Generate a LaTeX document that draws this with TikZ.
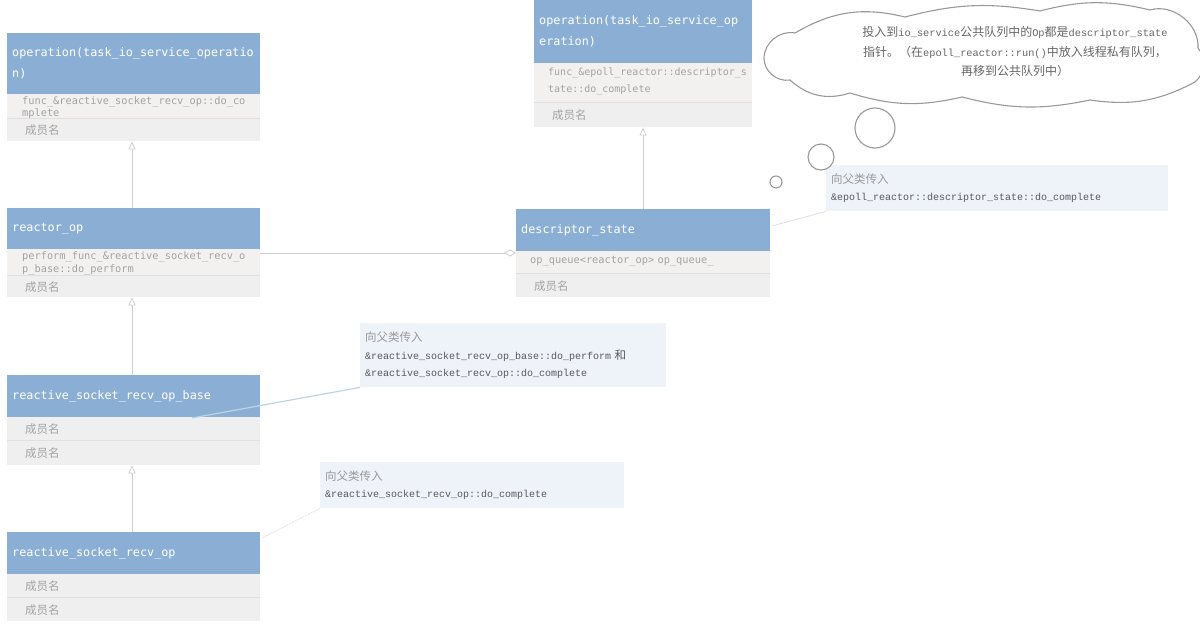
\documentclass[tikz,border=0pt]{standalone}
\usepackage{fontspec}
\setmainfont{Liberation Serif}
\newfontfamily\monof{DejaVu Sans Mono}
\newfontfamily\latm{Liberation Mono}
\newfontfamily\cjk{Noto Sans CJK SC}
\usetikzlibrary{arrows.meta,shapes.symbols}
\definecolor{hdrblue}{HTML}{8BAFD4}
\definecolor{rowa}{HTML}{F3F1F0}
\definecolor{rowb}{HTML}{EFEFEF}
\definecolor{rowtxt}{HTML}{A3A3A3}
\definecolor{notefill}{HTML}{EEF2F9}
\definecolor{linkgray}{HTML}{CFCFCF}
\newcommand{\zh}[1]{{\cjk\fontsize{11.5}{17.5}\selectfont #1}}
\newcommand{\zhc}[1]{{\cjk\fontsize{12}{19.5}\selectfont #1}}
\begin{document}
\begin{tikzpicture}[x=1pt,y=-1pt,
  hdr/.style={fill=hdrblue, anchor=north west, inner xsep=5pt, inner ysep=0pt,
    text=white, font=\monof\fontsize{11.8}{21}\selectfont, align=left},
  attrrow/.style={fill=rowa, anchor=north west, inner xsep=0pt, inner ysep=0pt,
    text=rowtxt, font=\monof\fontsize{10.5}{13}\selectfont, align=left},
  memrow/.style={fill=rowb, anchor=north west, inner xsep=0pt, inner ysep=0pt,
    text=rowtxt, font=\cjk\fontsize{11.5}{13}\selectfont, align=left},
  notebox/.style={fill=notefill, anchor=north west, inner xsep=5pt, inner ysep=4pt,
    font=\latm\fontsize{10}{17.5}\selectfont, align=left, text=black!65},
  inh/.style={draw=linkgray, line width=0.8pt, -{Triangle[open, width=7pt, length=8pt]}},
  agg/.style={draw=linkgray, line width=0.8pt, -{Diamond[open, width=7pt, length=12pt]}},
  bubble/.style={draw=black!40, line width=1.1pt, fill=white}
]
\useasboundingbox (0,0) rectangle (1200,627);
\fill[white] (0,0) rectangle (1200,627);

% ---------- left column ----------
\node[hdr, minimum width=253pt, minimum height=61pt, text width=243pt] (op1) at (7,33)
  {operation(task\_io\_service\_operatio\\n)};
\node[attrrow, minimum width=253pt, minimum height=25pt, text width=253pt] (op1a) at (7,94) {};
\node[attrrow, fill=none, text width=235pt, font=\monof\fontsize{10.3}{12}\selectfont] (op1at) at (22,96)
  {func\_\&reactive\_socket\_recv\_op::do\_co\\mplete};
\node[memrow, minimum width=253pt, minimum height=22pt, text width=253pt] (op1m) at (7,119)
  {\hspace{18pt}成员名};
\draw[black!12] (7,118.5) -- (260,118.5);

\node[hdr, minimum width=253pt, minimum height=41pt, text width=243pt] (rop) at (7,208)
  {reactor\_op};
\node[attrrow, minimum width=253pt, minimum height=27pt, text width=253pt] (ropa) at (7,249) {};
\node[attrrow, fill=none, text width=235pt, font=\monof\fontsize{10.3}{13}\selectfont] (ropat) at (22,251)
  {perform\_func\_\&reactive\_socket\_recv\_o\\p\_base::do\_perform};
\node[memrow, minimum width=253pt, minimum height=21pt, text width=253pt] (ropm) at (7,276)
  {\hspace{18pt}成员名};
\draw[black!12] (7,275.5) -- (260,275.5);

\node[hdr, minimum width=253pt, minimum height=42pt, text width=243pt] (base) at (7,375)
  {reactive\_socket\_recv\_op\_base};
\node[memrow, minimum width=253pt, minimum height=23pt, text width=253pt] (basem1) at (7,417)
  {\hspace{18pt}成员名};
\node[memrow, minimum width=253pt, minimum height=24pt, text width=253pt] (basem2) at (7,441)
  {\hspace{18pt}成员名};
\draw[black!12] (7,440.5) -- (260,440.5);

\node[hdr, minimum width=253pt, minimum height=42pt, text width=243pt] (rop2) at (7,532)
  {reactive\_socket\_recv\_op};
\node[memrow, minimum width=253pt, minimum height=23pt, text width=253pt] (rop2m1) at (7,574)
  {\hspace{18pt}成员名};
\node[memrow, minimum width=253pt, minimum height=23pt, text width=253pt] (rop2m2) at (7,598)
  {\hspace{18pt}成员名};
\draw[black!12] (7,597.5) -- (260,597.5);

% ---------- right column ----------
\node[hdr, minimum width=218pt, minimum height=63pt, text width=208pt] (op2) at (534,0)
  {operation(task\_io\_service\_op\\eration)};
\node[attrrow, minimum width=218pt, minimum height=40pt, text width=218pt] (op2a) at (534,63) {};
\node[attrrow, fill=none, text width=204pt, font=\monof\fontsize{10}{17}\selectfont] (op2at) at (548,68)
  {func\_\&epoll\_reactor::descriptor\_s\\tate::do\_complete};
\node[memrow, minimum width=218pt, minimum height=24pt, text width=218pt] (op2m) at (534,103)
  {\hspace{18pt}成员名};
\draw[black!12] (534,102.5) -- (752,102.5);

\node[hdr, minimum width=254pt, minimum height=42pt, text width=244pt] (ds) at (516,209)
  {descriptor\_state};
\node[attrrow, minimum width=254pt, minimum height=23pt, text width=254pt] (dsa) at (516,251) {};
\node[attrrow, fill=none, text width=235pt, font=\monof\fontsize{10.3}{13}\selectfont] (dsat) at (530,256)
  {op\_queue<reactor\_op> op\_queue\_};
\node[memrow, minimum width=254pt, minimum height=23pt, text width=254pt] (dsm) at (516,274)
  {\hspace{18pt}成员名};
\draw[black!12] (516,273.5) -- (770,273.5);

% ---------- connectors ----------
\draw[inh] (rop.north -| 132,0) -- (op1m.south -| 132,0);
\draw[inh] (base.north -| 132,0) -- (ropm.south -| 132,0);
\draw[inh] (rop2.north -| 132,0) -- (basem2.south -| 132,0);
\draw[inh] (ds.north -| 643,0) -- (op2m.south -| 643,0);
\coordinate (aggL) at (260,253);
\coordinate (aggR) at (516,253);
\draw[agg] (aggL) -- (aggR);

% ---------- notes ----------
\node[notebox, minimum width=342pt, minimum height=46pt, text width=332pt] (n1) at (826,165)
  {{\color{black!40}\zh{向父类传入}}\\
   \&epoll\_reactor::descriptor\_state::do\_complete};
\node[notebox, minimum width=306pt, minimum height=64pt, text width=296pt] (n2) at (360,323)
  {{\color{black!40}\zh{向父类传入}}\\
   \&reactive\_socket\_recv\_op\_base::do\_perform \zh{和}\\
   \&reactive\_socket\_recv\_op::do\_complete};
\node[notebox, minimum width=304pt, minimum height=46pt, text width=294pt] (n3) at (320,462)
  {{\color{black!40}\zh{向父类传入}}\\
   \&reactive\_socket\_recv\_op::do\_complete};

\coordinate (n2end) at (192,418);
\draw[draw=hdrblue!55, line width=1.2pt] (n2.south west) -- (n2end);
\coordinate (n3end) at (262,538);
\draw[draw=black!15, densely dotted, line width=0.8pt] (n3.south west) -- (n3end);
\coordinate (dsend) at (772,226);
\draw[draw=black!12, line width=0.8pt] (n1.south west) -- (dsend);

% ---------- cloud ----------
\draw[bubble] (764,58) to[bend left=50] (795,33) to[bend left=22] (905,17)
  to[bend left=12] (1040,11) to[bend left=14] (1150,10) to[bend left=55] (1198,48)
  to[bend left=45] (1195,82) to[bend left=18] (1090,100) to[bend left=13] (962,97)
  to[bend left=15] (850,93) to[bend left=30] (790,80) to[bend left=50] cycle;
\node[font=\latm\fontsize{10.3}{19.5}\selectfont, align=center, text=black!60] (clt) at (1015,52)
  {\zhc{投入到}io\_service\zhc{公共队列中的}Op\zhc{都是}descriptor\_state\\
   \zhc{指针。（在}epoll\_reactor::run()\zhc{中放入线程私有队列，}\\
   \zhc{再移到公共队列中）}};
\node[circle, bubble, minimum size=40pt, inner sep=0pt] (b1) at (875,128) {};
\node[circle, bubble, minimum size=26pt, inner sep=0pt] (b2) at (821,157) {};
\node[circle, bubble, minimum size=12pt, inner sep=0pt] (b3) at (776,182) {};
\end{tikzpicture}
\end{document}
